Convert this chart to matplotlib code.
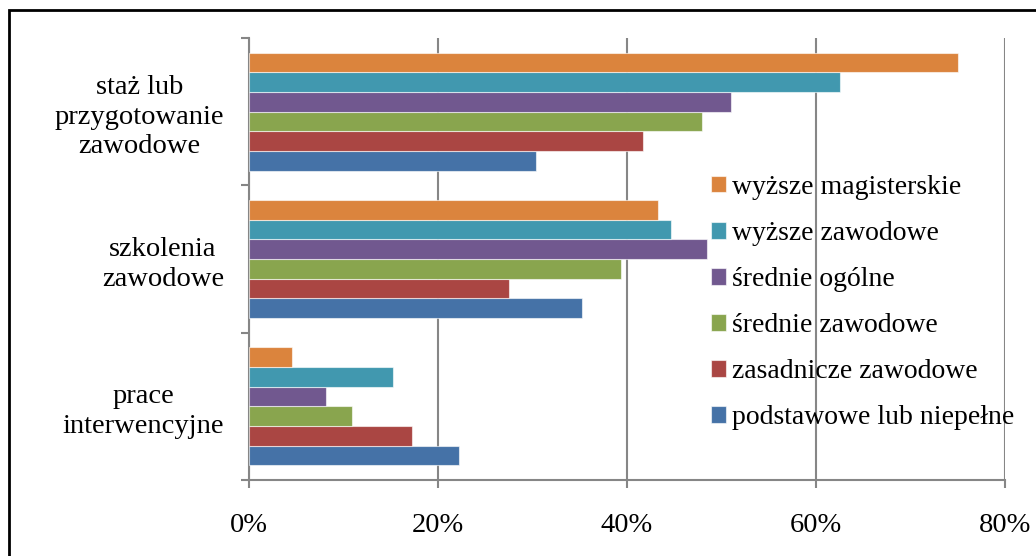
'''Horizontal grouped bars: forms of activation by education level.'''
import numpy as np
from matplotlib import pyplot as plt
from matplotlib.patches import Rectangle
from matplotlib.ticker import FuncFormatter

categories = ['prace\ninterwencyjne', 'szkolenia\nzawodowe',
              'staż lub\nprzygotowanie\nzawodowe']
series = ['podstawowe lub niepełne', 'zasadnicze zawodowe', 'średnie zawodowe',
          'średnie ogólne', 'wyższe zawodowe', 'wyższe magisterskie']
values = {
    'podstawowe lub niepełne': [22.2, 35.2, 30.4],
    'zasadnicze zawodowe': [17.2, 27.5, 41.7],
    'średnie zawodowe': [10.9, 39.4, 47.9],
    'średnie ogólne': [8.2, 48.5, 51.0],
    'wyższe zawodowe': [15.2, 44.7, 62.5],
    'wyższe magisterskie': [4.5, 43.3, 75.0],
}
colors = ['#4572A7', '#AA4643', '#89A54E', '#71588F', '#4198AF', '#DB843D']
x_ticks = [0, 20, 40, 60, 80]

plt.rcParams['font.family'] = ['Liberation Serif', 'DejaVu Serif']
fig = plt.figure(figsize=(10.36, 5.56), dpi=100)
ax = fig.add_axes([249 / 1036, 1 - 480 / 556, 756 / 1036, 442 / 556])

grid_col = '#868686'
n = len(series)
bar_h = 0.8 / n
y = np.arange(len(categories))
for i, name in enumerate(series):
    offset = -0.4 + bar_h * (i + 0.5)
    ax.barh(y + offset, values[name], height=bar_h, color=colors[i],
            edgecolor=(1, 1, 1, 0.6), linewidth=0.8, label=name, zorder=3)

ax.set_xlim(0, 80)
ax.set_ylim(-0.5, len(categories) - 0.5)
ax.set_xticks(x_ticks)
ax.xaxis.set_major_formatter(FuncFormatter(lambda v, _: f'{v:.0f}%'))
ax.grid(axis='x', color=grid_col, linewidth=1.5, zorder=0)
ax.set_yticks(y)
ax.set_yticklabels(categories)
for lab in ax.get_yticklabels():
    lab.set_multialignment('center')
    lab.set_linespacing(1.25)
ax.set_yticks(np.arange(-0.5, len(categories)), minor=True)
ax.tick_params(axis='y', which='major', length=0, pad=18, labelsize=20.5)
ax.tick_params(axis='y', which='minor', length=6, width=1.5, color=grid_col)
ax.tick_params(axis='x', length=6, width=1.5, color=grid_col, pad=18,
               labelsize=20.5)
for side in ['top', 'right']:
    ax.spines[side].set_visible(False)
for side in ['left', 'bottom']:
    ax.spines[side].set_color(grid_col)
    ax.spines[side].set_linewidth(1.5)

handles, labels = ax.get_legend_handles_labels()
ax.legend(handles[::-1], labels[::-1], loc='upper left',
          bbox_to_anchor=(697 / 1036, 1 - 161 / 556),
          bbox_transform=fig.transFigure, frameon=False, fontsize=20,
          handlelength=0.55, handleheight=0.55, handletextpad=0.2,
          labelspacing=0.76, borderpad=0)

fig.patches.append(Rectangle((9 / 1036, -0.05), 1.05, 1.05 - 10 / 556,
                             transform=fig.transFigure, fill=False,
                             edgecolor='black', linewidth=2))
fig.savefig('out.png', dpi=100)
